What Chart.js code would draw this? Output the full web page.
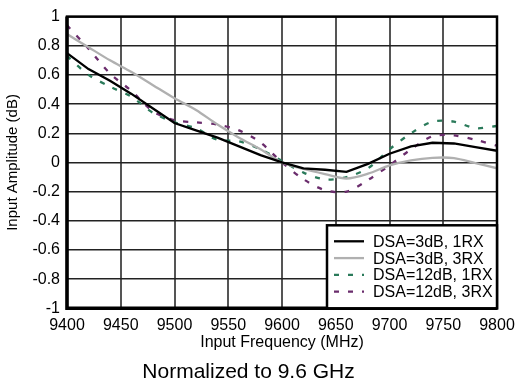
<!DOCTYPE html>
<html>
<head>
<meta charset="utf-8">
<script src="https://cdn.jsdelivr.net/npm/chart.js@4/dist/chart.umd.min.js"></script>
<style>
  html, body { margin: 0; padding: 0; background: #fff; }
  #wrap { width: 515px; height: 383px; }
</style>
</head>
<body>
<div id="wrap"><canvas id="c" width="515" height="383"></canvas></div>
<script>
const freqMHz = [9400, 9420, 9440, 9460, 9480, 9500, 9520, 9540, 9560, 9580, 9600, 9620, 9640, 9660, 9680, 9700, 9720, 9740, 9760, 9780, 9800];
const dsa3_1rx  = [0.75, 0.64, 0.56, 0.47, 0.37, 0.27, 0.22, 0.17, 0.11, 0.05, 0.0, -0.04, -0.05, -0.065, -0.01, 0.06, 0.11, 0.135, 0.13, 0.105, 0.08];
const dsa3_3rx  = [0.88, 0.79, 0.70, 0.62, 0.53, 0.44, 0.36, 0.26, 0.17, 0.09, 0.0, -0.045, -0.08, -0.11, -0.077, -0.02, 0.015, 0.032, 0.03, -0.005, -0.04];
const dsa12_1rx = [0.73, 0.60, 0.52, 0.45, 0.34, 0.275, 0.235, 0.155, 0.145, 0.09, 0.01, -0.07, -0.116, -0.10, -0.04, 0.09, 0.20, 0.28, 0.28, 0.235, 0.25];
const dsa12_3rx = [0.94, 0.78, 0.61, 0.49, 0.35, 0.29, 0.275, 0.26, 0.22, 0.137, 0.0, -0.115, -0.19, -0.20, -0.12, -0.02, 0.09, 0.18, 0.185, 0.155, 0.115];
const seriesLabels = ['DSA=3dB, 1RX', 'DSA=3dB, 3RX', 'DSA=12dB, 1RX', 'DSA=12dB, 3RX'];
const xTickLabels = ['9400', '9450', '9500', '9550', '9600', '9650', '9700', '9750', '9800'];
const yTickLabels = ['-1', '-0.8', '-0.6', '-0.4', '-0.2', '0', '0.2', '0.4', '0.6', '0.8', '1'];
const xTitle = 'Input Frequency (MHz)';
const yTitle = 'Input Amplitude (dB)';
const chartTitle = 'Normalized to 9.6 GHz';

const FONT = "'Liberation Sans', Arial, sans-serif";

function pts(vals) { return freqMHz.map((f, i) => ({ x: f, y: vals[i] })); }

const legendBox = {
  id: 'legendBox',
  afterDraw(chart) {
    const ctx = chart.ctx, a = chart.chartArea;
    const w = 170, h = 83;
    const left = a.right - w, top = a.bottom - h;
    ctx.save();
    ctx.fillStyle = '#fff';
    ctx.fillRect(left, top, w, h);
    ctx.lineWidth = 2.5;
    ctx.strokeStyle = '#000';
    ctx.strokeRect(left, top, w, h);
    ctx.font = '16px ' + FONT;
    ctx.textBaseline = 'middle';
    ctx.fillStyle = '#000';
    chart.data.datasets.forEach((ds, i) => {
      const y = top + 16 + i * 16.8;
      ctx.beginPath();
      ctx.setLineDash(ds.borderDash || []);
      ctx.lineWidth = ds.borderWidth;
      ctx.strokeStyle = ds.borderColor;
      ctx.moveTo(left + 7, y);
      ctx.lineTo(left + 37, y);
      ctx.stroke();
      ctx.setLineDash([]);
      ctx.fillText(ds.label, left + 46, y + 1);
    });
    ctx.restore();
  }
};

const frame = {
  id: 'frame',
  afterDatasetsDraw(chart) {
    const ctx = chart.ctx, a = chart.chartArea;
    ctx.save();
    ctx.strokeStyle = '#000';
    ctx.lineWidth = 2.5;
    ctx.strokeRect(a.left, a.top, a.right - a.left, a.bottom - a.top);
    ctx.lineWidth = 3.5;
    ctx.beginPath();
    ctx.moveTo(a.left, a.top);
    ctx.lineTo(a.left, a.bottom);
    ctx.lineTo(a.right, a.bottom);
    ctx.stroke();
    ctx.restore();
  }
};

new Chart(document.getElementById('c'), {
  type: 'line',
  data: {
    datasets: [
      { label: seriesLabels[0], data: pts(dsa3_1rx), borderColor: '#000000', borderWidth: 2.3, pointRadius: 0, tension: 0 },
      { label: seriesLabels[1], data: pts(dsa3_3rx), borderColor: '#b0b0b0', borderWidth: 2.3, pointRadius: 0, tension: 0.3 },
      { label: seriesLabels[2], data: pts(dsa12_1rx), borderColor: '#2a7a5a', borderWidth: 2.3, borderDash: [5, 9], pointRadius: 0, tension: 0.3 },
      { label: seriesLabels[3], data: pts(dsa12_3rx), borderColor: '#6a2c6c', borderWidth: 2.3, borderDash: [5, 9], pointRadius: 0, tension: 0.3 }
    ]
  },
  options: {
    responsive: false,
    animation: false,
    devicePixelRatio: 1,
    layout: { padding: { top: 16, right: 18, left: 0, bottom: 0 } },
    plugins: {
      legend: { display: false },
      tooltip: { enabled: false },
      title: {
        display: true, position: 'bottom', text: chartTitle, color: '#000',
        font: { family: FONT, size: 21, weight: 'normal' },
        padding: { top: 7, bottom: -1.5 }
      }
    },
    scales: {
      x: {
        type: 'linear', min: 9400, max: 9800,
        ticks: {
          stepSize: 50, color: '#000', padding: 8,
          font: { family: FONT, size: 16 },
          maxRotation: 0,
          callback: (v) => xTickLabels[Math.round((v - 9400) / 50)]
        },
        grid: { color: '#555', lineWidth: 2, drawTicks: false },
        border: { display: false },
        title: { display: true, text: xTitle, color: '#000', font: { family: FONT, size: 16 }, padding: { top: 0, bottom: 0 } },
        afterFit: (s) => { s.height = 44; s.paddingRight = 18; s.paddingLeft = 0; }
      },
      y: {
        min: -1, max: 1,
        ticks: {
          stepSize: 0.2, color: '#000', padding: 7,
          font: { family: FONT, size: 16 },
          callback: (v) => yTickLabels[Math.round((v + 1) / 0.2)]
        },
        grid: { color: '#222', lineWidth: 1.5, drawTicks: false },
        border: { display: false },
        title: { display: true, text: yTitle, color: '#000', font: { family: FONT, size: 15 }, padding: { top: 4, bottom: 0 } },
        afterFit: (s) => { s.width = 67; }
      }
    }
  },
  plugins: [frame, legendBox]
});
</script>
</body>
</html>
